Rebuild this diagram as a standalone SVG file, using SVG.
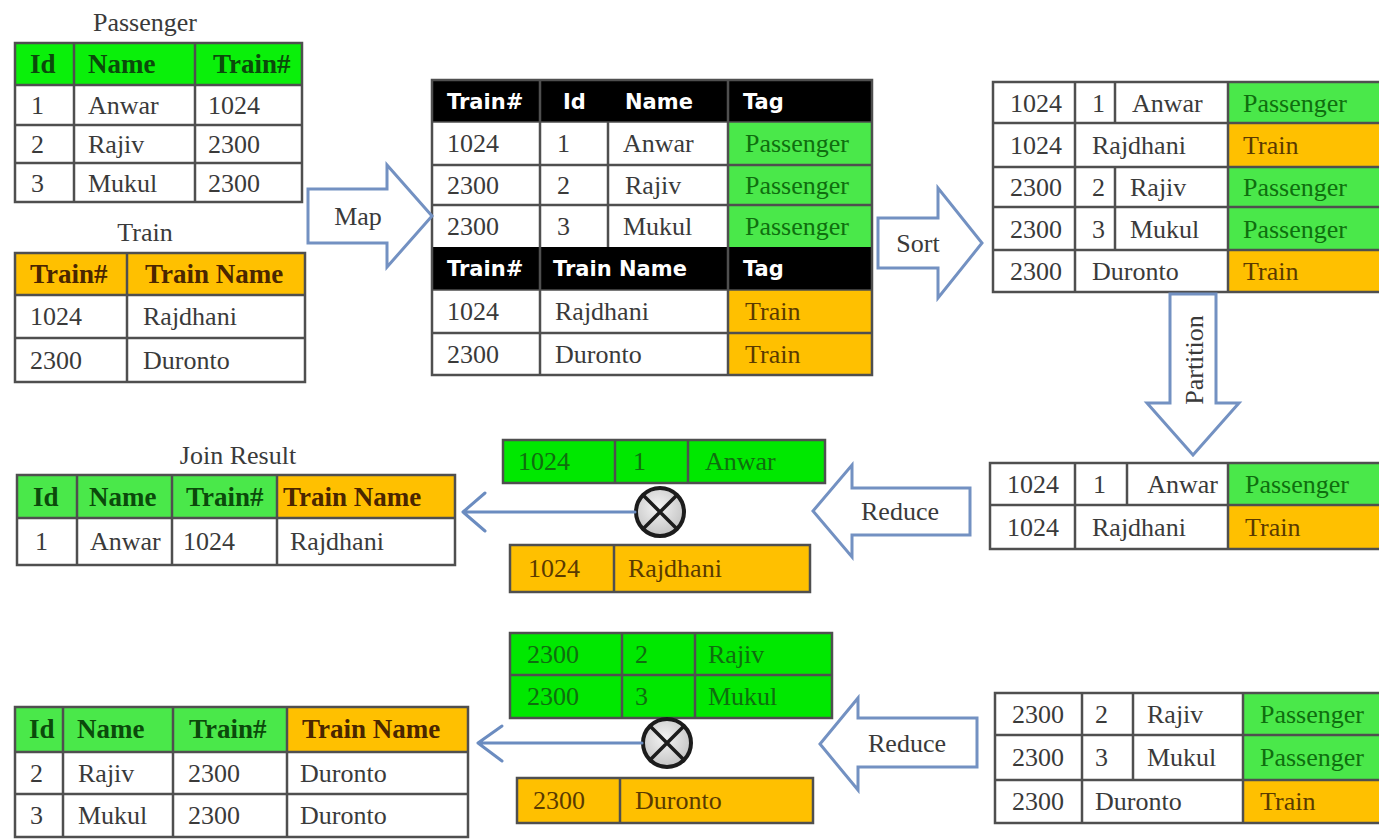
<svg xmlns="http://www.w3.org/2000/svg" width="1379" height="839" viewBox="0 0 1379 839">
  <style>
    .t { font-family: "Liberation Serif", "Times New Roman", serif; font-size: 26px; fill: #3a3a3a; }
    .b { font-weight: bold; font-size: 27px; }
    .hg { fill: #0b4a0b; }
    .ho { fill: #4a2600; }
    .tg { fill: #0f6e0f; }
    .to { fill: #5a3a00; }
    .h { font-family: "DejaVu Sans", "Liberation Sans", sans-serif; font-weight: bold; font-size: 21px; fill: #ffffff; }
    .grid { fill: none; stroke: #4f4f4f; stroke-width: 2.5; }
    .gr { fill: #0af00a; }
    .lg { fill: #4ae84a; }
    .go { fill: #ffc000; }
    .blk { fill: #ffffff; stroke: #7391c2; stroke-width: 3; stroke-linejoin: miter; }
    .ln { fill: none; stroke: #6b8cc0; stroke-width: 3; stroke-linecap: round; stroke-linejoin: round; }
    .join { fill: url(#joinFill); stroke: #1c1c1c; stroke-width: 4; }
    .x { stroke: #1c1c1c; stroke-width: 3.5; }
  </style>
  <defs>
    <radialGradient id="joinFill" cx="0.45" cy="0.4" r="0.6">
      <stop offset="0" stop-color="#f4f4f4"/>
      <stop offset="1" stop-color="#c4c4c4"/>
    </radialGradient>
  </defs>

  <rect width="1379" height="839" fill="#ffffff"/>

  <!-- Passenger input table -->
  <g id="passenger">
    <text class="t" x="145" y="31" text-anchor="middle">Passenger</text>
    <rect class="gr" x="15" y="43" width="287" height="42"/>
    <rect class="grid" x="15" y="43" width="287" height="159"/>
    <path class="grid" d="M15,85H302M15,125H302M15,163H302M74,43V202M195,43V202"/>
    <text class="t b hg" x="30" y="73">Id</text>
    <text class="t b hg" x="88" y="73">Name</text>
    <text class="t b hg" x="213" y="73">Train#</text>
    <text class="t" x="31" y="114">1</text>
    <text class="t" x="88" y="114">Anwar</text>
    <text class="t" x="208" y="114">1024</text>
    <text class="t" x="31" y="153">2</text>
    <text class="t" x="88" y="153">Rajiv</text>
    <text class="t" x="208" y="153">2300</text>
    <text class="t" x="31" y="192">3</text>
    <text class="t" x="88" y="192">Mukul</text>
    <text class="t" x="208" y="192">2300</text>
  </g>

  <!-- Train input table -->
  <g id="train">
    <text class="t" x="145" y="241" text-anchor="middle">Train</text>
    <rect class="go" x="15" y="253" width="290" height="42"/>
    <rect class="grid" x="15" y="253" width="290" height="129"/>
    <path class="grid" d="M15,295H305M15,338H305M127,253V382"/>
    <text class="t b ho" x="30" y="283">Train#</text>
    <text class="t b ho" x="145" y="283">Train Name</text>
    <text class="t" x="30" y="325">1024</text>
    <text class="t" x="143" y="325">Rajdhani</text>
    <text class="t" x="30" y="369">2300</text>
    <text class="t" x="143" y="369">Duronto</text>
  </g>

  <!-- Tagged map output -->
  <g id="mapped">
    <rect fill="#000" x="432" y="80" width="440" height="42"/>
    <rect fill="#000" x="432" y="247" width="440" height="43"/>
    <rect class="lg" x="728" y="122" width="144" height="125"/>
    <rect class="go" x="728" y="290" width="144" height="85"/>
    <rect class="grid" x="432" y="80" width="440" height="295"/>
    <path class="grid" d="M432,165H872M432,205H872M432,333H872M540,80V375M608,122V247M728,80V375"/>
    <path fill="none" stroke="#4f4f4f" stroke-width="1.5" d="M432,122H872M432,290H872"/>
    <text class="h" x="447" y="109">Train#</text>
    <text class="h" x="563" y="109">Id</text>
    <text class="h" x="625" y="109">Name</text>
    <text class="h" x="743" y="109">Tag</text>
    <text class="t" x="447" y="152">1024</text>
    <text class="t" x="557" y="152">1</text>
    <text class="t" x="623" y="152">Anwar</text>
    <text class="t tg" x="745" y="152">Passenger</text>
    <text class="t" x="447" y="194">2300</text>
    <text class="t" x="557" y="194">2</text>
    <text class="t" x="625" y="194">Rajiv</text>
    <text class="t tg" x="745" y="194">Passenger</text>
    <text class="t" x="447" y="235">2300</text>
    <text class="t" x="557" y="235">3</text>
    <text class="t" x="623" y="235">Mukul</text>
    <text class="t tg" x="745" y="235">Passenger</text>
    <text class="h" x="447" y="276">Train#</text>
    <text class="h" x="553" y="276">Train Name</text>
    <text class="h" x="743" y="276">Tag</text>
    <text class="t" x="447" y="320">1024</text>
    <text class="t" x="555" y="320">Rajdhani</text>
    <text class="t to" x="745" y="320">Train</text>
    <text class="t" x="447" y="363">2300</text>
    <text class="t" x="555" y="363">Duronto</text>
    <text class="t to" x="745" y="363">Train</text>
  </g>

  <!-- Sorted records -->
  <g id="sorted">
    <rect class="lg" x="1228" y="82" width="160" height="41"/>
    <rect class="go" x="1228" y="123" width="160" height="44"/>
    <rect class="lg" x="1228" y="167" width="160" height="83"/>
    <rect class="go" x="1228" y="250" width="160" height="42"/>
    <rect class="grid" x="993" y="82" width="400" height="210"/>
    <path class="grid" d="M993,123H1393M993,167H1393M993,207H1393M993,250H1393M1075,82V292M1115,82V123M1115,167V250M1228,82V292"/>
    <text class="t" x="1010" y="112">1024</text>
    <text class="t" x="1092" y="112">1</text>
    <text class="t" x="1132" y="112">Anwar</text>
    <text class="t tg" x="1243" y="112">Passenger</text>
    <text class="t" x="1010" y="154">1024</text>
    <text class="t" x="1092" y="154">Rajdhani</text>
    <text class="t to" x="1243" y="154">Train</text>
    <text class="t" x="1010" y="196">2300</text>
    <text class="t" x="1092" y="196">2</text>
    <text class="t" x="1130" y="196">Rajiv</text>
    <text class="t tg" x="1243" y="196">Passenger</text>
    <text class="t" x="1010" y="238">2300</text>
    <text class="t" x="1092" y="238">3</text>
    <text class="t" x="1130" y="238">Mukul</text>
    <text class="t tg" x="1243" y="238">Passenger</text>
    <text class="t" x="1010" y="280">2300</text>
    <text class="t" x="1092" y="280">Duronto</text>
    <text class="t to" x="1243" y="280">Train</text>
  </g>

  <!-- Partition for key 1024 -->
  <g id="partition-1024">
    <rect class="lg" x="1228" y="463" width="160" height="42"/>
    <rect class="go" x="1228" y="505" width="160" height="44"/>
    <rect class="grid" x="990" y="463" width="400" height="86"/>
    <path class="grid" d="M990,505H1390M1075,463V549M1127,463V505M1228,463V549"/>
    <text class="t" x="1007" y="493">1024</text>
    <text class="t" x="1093" y="493">1</text>
    <text class="t" x="1218" y="493" text-anchor="end">Anwar</text>
    <text class="t tg" x="1245" y="493">Passenger</text>
    <text class="t" x="1007" y="536">1024</text>
    <text class="t" x="1092" y="536">Rajdhani</text>
    <text class="t to" x="1245" y="536">Train</text>
  </g>

  <!-- Partition for key 2300 -->
  <g id="partition-2300">
    <rect class="lg" x="1243" y="693" width="145" height="87"/>
    <rect class="go" x="1243" y="780" width="145" height="43"/>
    <rect class="grid" x="995" y="693" width="395" height="130"/>
    <path class="grid" d="M995,735H1390M995,780H1390M1082,693V823M1133,693V780M1243,693V823"/>
    <text class="t" x="1012" y="723">2300</text>
    <text class="t" x="1095" y="723">2</text>
    <text class="t" x="1147" y="723">Rajiv</text>
    <text class="t tg" x="1260" y="723">Passenger</text>
    <text class="t" x="1012" y="766">2300</text>
    <text class="t" x="1095" y="766">3</text>
    <text class="t" x="1147" y="766">Mukul</text>
    <text class="t tg" x="1260" y="766">Passenger</text>
    <text class="t" x="1012" y="810">2300</text>
    <text class="t" x="1095" y="810">Duronto</text>
    <text class="t to" x="1260" y="810">Train</text>
  </g>

  <!-- Reducer for key 1024 -->
  <g id="reduce-1024">
    <rect fill="#00e800" x="503" y="440" width="322" height="43"/>
    <path class="grid" stroke-width="1.5" d="M503,440H825V483H503ZM615,440V483M688,440V483"/>
    <text class="t tg" x="518" y="470">1024</text>
    <text class="t tg" x="633" y="470">1</text>
    <text class="t tg" x="705" y="470">Anwar</text>
    <rect class="go" x="510" y="545" width="300" height="47"/>
    <path class="grid" stroke-width="1.5" d="M510,545H810V592H510ZM614,545V592"/>
    <text class="t to" x="528" y="577">1024</text>
    <text class="t to" x="628" y="577">Rajdhani</text>
    <circle class="join" cx="660" cy="512" r="24"/>
    <path class="x" d="M643,495L677,529M677,495L643,529"/>
  </g>

  <!-- Reducer for key 2300 -->
  <g id="reduce-2300">
    <rect fill="#00e800" x="510" y="633" width="322" height="85"/>
    <path class="grid" stroke-width="1.5" d="M510,633H832V718H510ZM510,675H832M622,633V718M695,633V718"/>
    <text class="t tg" x="527" y="663">2300</text>
    <text class="t tg" x="635" y="663">2</text>
    <text class="t tg" x="708" y="663">Rajiv</text>
    <text class="t tg" x="527" y="705">2300</text>
    <text class="t tg" x="635" y="705">3</text>
    <text class="t tg" x="708" y="705">Mukul</text>
    <rect class="go" x="517" y="778" width="296" height="45"/>
    <path class="grid" stroke-width="1.5" d="M517,778H813V823H517ZM620,778V823"/>
    <text class="t to" x="533" y="809">2300</text>
    <text class="t to" x="635" y="809">Duronto</text>
    <circle class="join" cx="667" cy="743" r="24"/>
    <path class="x" d="M650,726L684,760M684,726L650,760"/>
  </g>

  <!-- Join result for key 1024 -->
  <g id="join-1024">
    <text class="t" x="238" y="464" text-anchor="middle">Join Result</text>
    <rect class="lg" x="17" y="475" width="260" height="43"/>
    <rect class="go" x="277" y="475" width="178" height="43"/>
    <rect class="grid" x="17" y="475" width="438" height="90"/>
    <path class="grid" d="M17,518H455M77,475V565M172,475V565M277,475V565"/>
    <text class="t b hg" x="33" y="506">Id</text>
    <text class="t b hg" x="89" y="506">Name</text>
    <text class="t b hg" x="186" y="506">Train#</text>
    <text class="t b ho" x="283" y="506">Train Name</text>
    <text class="t" x="35" y="550">1</text>
    <text class="t" x="90" y="550">Anwar</text>
    <text class="t" x="183" y="550">1024</text>
    <text class="t" x="290" y="550">Rajdhani</text>
  </g>

  <!-- Join result for key 2300 -->
  <g id="join-2300">
    <rect class="lg" x="15" y="707" width="272" height="45"/>
    <rect class="go" x="287" y="707" width="181" height="45"/>
    <rect class="grid" x="15" y="707" width="453" height="130"/>
    <path class="grid" d="M15,752H468M15,794H468M63,707V837M173,707V837M287,707V837"/>
    <text class="t b hg" x="29" y="738">Id</text>
    <text class="t b hg" x="77" y="738">Name</text>
    <text class="t b hg" x="189" y="738">Train#</text>
    <text class="t b ho" x="302" y="738">Train Name</text>
    <text class="t" x="30" y="782">2</text>
    <text class="t" x="78" y="782">Rajiv</text>
    <text class="t" x="188" y="782">2300</text>
    <text class="t" x="300" y="782">Duronto</text>
    <text class="t" x="30" y="824">3</text>
    <text class="t" x="78" y="824">Mukul</text>
    <text class="t" x="188" y="824">2300</text>
    <text class="t" x="300" y="824">Duronto</text>
  </g>

  <!-- Process arrows and join outputs -->
  <g id="connectors">
    <path class="blk" d="M308,189L387,189L387,165L432,216L387,267L387,243L308,243Z"/>
    <text class="t" x="358" y="225" text-anchor="middle">Map</text>

    <path class="blk" d="M878,218L938,218L938,188L982,243L938,298L938,268L878,268Z"/>
    <text class="t" x="918" y="252" text-anchor="middle">Sort</text>

    <path class="blk" d="M1170,294L1216,294L1216,403L1239,403L1193,455L1147,403L1170,403Z"/>
    <text class="t" fill="#555" transform="translate(1203,360) rotate(-90)" text-anchor="middle">Partition</text>

    <path class="blk" d="M970,488L852,488L852,465L813,511L852,557L852,535L970,535Z"/>
    <text class="t" x="900" y="520" text-anchor="middle">Reduce</text>

    <path class="blk" d="M977,718L858,718L858,698L820,744L858,790L858,767L977,767Z"/>
    <text class="t" x="907" y="752" text-anchor="middle">Reduce</text>

    <path class="ln" d="M635,512H463M485,493L463,512L485,531"/>
    <path class="ln" d="M642,743H478M502,726L478,743L502,761"/>
  </g>
</svg>
